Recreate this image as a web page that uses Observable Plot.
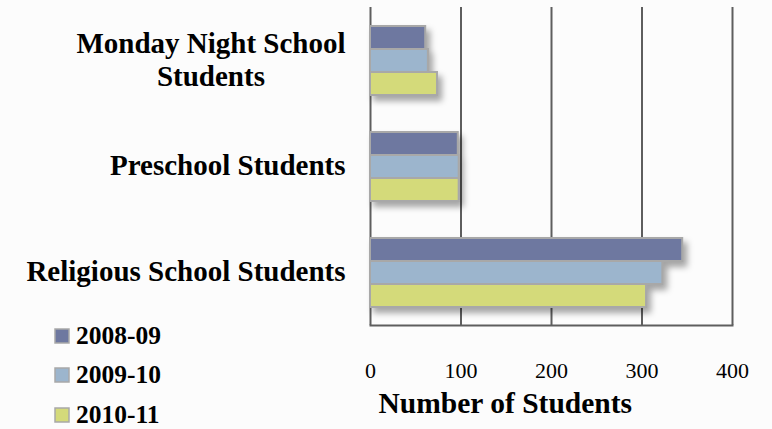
<!DOCTYPE html>
<html>
<head>
<meta charset="utf-8">
<script src="https://cdn.jsdelivr.net/npm/d3@7"></script>
<script src="https://cdn.jsdelivr.net/npm/@observablehq/plot@0.6"></script>
<style>
  html, body { margin: 0; padding: 0; background: #fcfcfc; }
  #wrap { position: relative; width: 772px; height: 429px; overflow: hidden; }
  #legend { position: absolute; left: 55px; top: 316px; }
  div.lg-swatches .lg-swatch { height: 39.5px; padding-bottom: 0; align-items: center; }
  div.lg-swatches .lg-swatch svg { margin-right: 7px; overflow: visible; }
  div.lg-swatches .lg-swatch svg rect { stroke: #a8a8a8; stroke-width: 1.5px; }
</style>
</head>
<body>
<div id="wrap"><div id="chart"></div><div id="legend"></div></div>
<script>
const categories = ["Monday Night School\nStudents", "Preschool Students", "Religious School Students"];
const seriesNames = ["2008-09", "2009-10", "2010-11"];
const values2008 = [61, 97, 345];
const values2009 = [64, 98, 323];
const values2010 = [74, 98, 305];
const xTicks = [0, 100, 200, 300, 400];
const colors = ["#6e78a0", "#9cb5cd", "#d4da7a"];
const axisTitle = "Number of Students";

const allSeries = [values2008, values2009, values2010];
const rows = [];
categories.forEach((c, i) => {
  seriesNames.forEach((s, j) => rows.push({category: c, series: s, value: allSeries[j][i]}));
});

const serif = "'Liberation Serif', 'DejaVu Serif', serif";

const chart = Plot.plot({
  width: 772,
  height: 429,
  marginLeft: 370,
  marginRight: 40,
  marginTop: 6,
  marginBottom: 104,
  style: {background: "transparent", fontFamily: serif, fontSize: "20px", color: "#000"},
  x: {domain: [0, 400], axis: null},
  y: {domain: seriesNames, axis: null, paddingInner: 0, paddingOuter: 0.72},
  fy: {domain: categories, axis: null, padding: 0},
  color: {domain: seriesNames, range: colors},
  marks: [
    Plot.ruleX(xTicks, {x: d => d, stroke: "#5e5e5e", strokeWidth: 2, strokeOpacity: 1}),
    Plot.frame({anchor: "bottom", stroke: "#5e5e5e", strokeWidth: 2, facetAnchor: "bottom"}),
    Plot.barX(rows, {x: "value", y: "series", fy: "category", fill: "series", stroke: "#a8a8a8", strokeWidth: 2}),
    Plot.text(categories, {fy: d => d, text: d => d, frameAnchor: "left", textAnchor: "end", dx: -25, dy: -2, fontSize: 29, fontWeight: "bold", lineHeight: 1.15, fill: "#000"}),
    Plot.text(xTicks, {x: d => d, text: d => String(d), frameAnchor: "bottom", dy: 52, fontSize: 22, fill: "#000", facetAnchor: "bottom"}),
    Plot.text([axisTitle], {x: () => 0, text: d => d, frameAnchor: "bottom", textAnchor: "start", dx: 8, dy: 87, fontSize: 29.5, fontWeight: "bold", fill: "#000", facetAnchor: "bottom"})
  ]
});
chart.querySelectorAll('g[aria-label="bar"]').forEach(g => {
  g.style.filter = "drop-shadow(4px 5px 3px rgba(0,0,0,0.35))";
});
document.getElementById("chart").appendChild(chart);

// center the lines of a multi-line category label within its right-aligned block
chart.querySelectorAll('g[aria-label="text"] text').forEach(t => {
  if (t.querySelectorAll("tspan").length > 1) {
    const w = t.getBBox().width;
    t.setAttribute("text-anchor", "middle");
    const tr = t.getAttribute("transform") || "";
    t.setAttribute("transform", tr + ` translate(${-w / 2},0)`);
  }
});

const legend = Plot.legend({
  color: {domain: seriesNames, range: colors},
  legend: "swatches",
  columns: 1,
  swatchSize: 14,
  className: "lg",
  style: {fontFamily: serif, fontSize: "25.5px", fontWeight: "bold", color: "#000", background: "transparent"}
});
document.getElementById("legend").appendChild(legend);
</script>
</body>
</html>
